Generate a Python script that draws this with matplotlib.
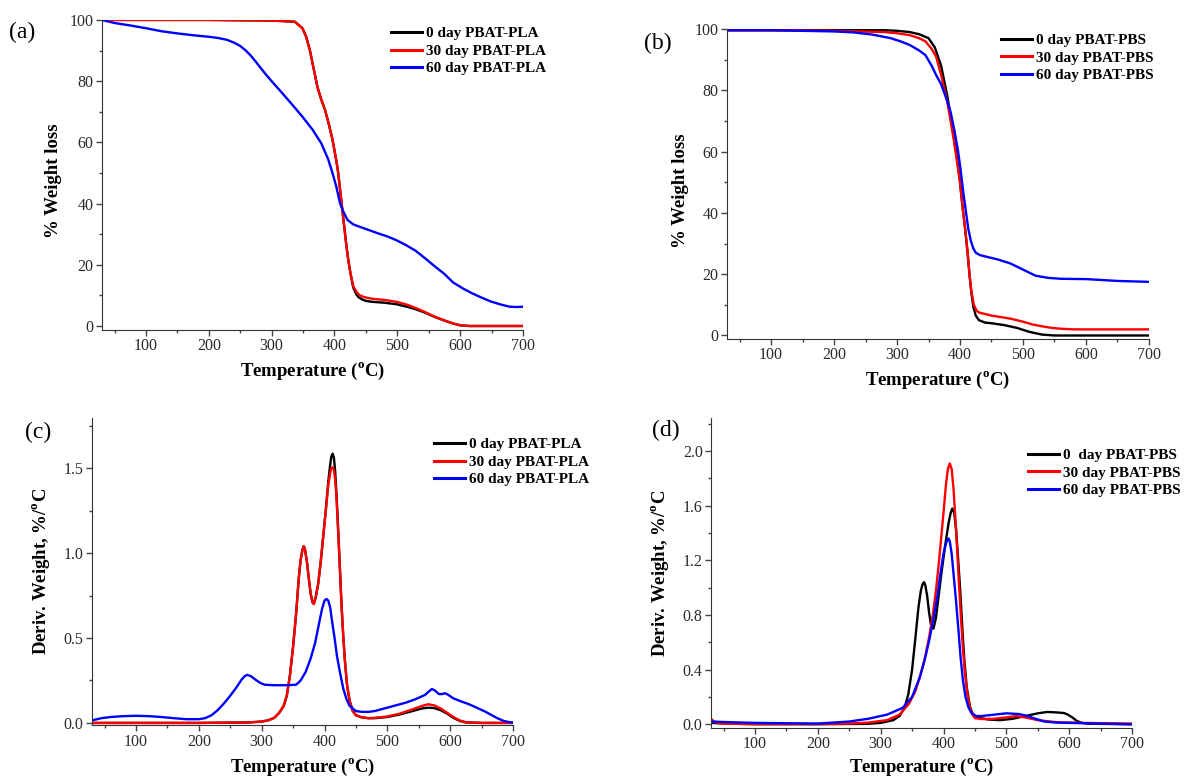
import matplotlib
matplotlib.use('Agg')
import matplotlib.pyplot as plt
from matplotlib.ticker import MultipleLocator

plt.rcParams['font.family'] = ['Liberation Serif', 'DejaVu Serif']
plt.rcParams['mathtext.fontset'] = 'custom'
plt.rcParams['mathtext.rm'] = 'Liberation Serif'
plt.rcParams['mathtext.bf'] = 'Liberation Serif:bold'

# ---- (a) TGA PBAT-PLA ----
a_t_0 = [30, 100, 200, 300, 320, 337, 349, 355, 361, 367, 373, 379, 385, 391, 397, 403, 406, 409,
         412, 415, 418, 421, 424, 427, 430, 435, 439, 445, 450, 460, 480, 499, 515, 529, 545, 559,
         575, 589, 601, 615, 650, 700]
a_w_0 = [100, 100, 100, 99.8, 99.6, 99.4, 97.3, 94.5, 90, 84, 78, 74, 70.6, 66, 60.8, 54, 50, 44.5,
         39, 33.5, 28, 23, 19, 15.5, 12.5, 10.3, 9.3, 8.6, 8.2, 7.9, 7.6, 7.1, 6.3, 5.5, 4.3, 3,
         1.8, 0.8, 0.2, 0, 0, 0]
a_w_30 = [100, 100, 100, 99.8, 99.6, 99.4, 97.3, 94.5, 90, 84, 78, 74, 70.6, 66, 60.8, 54, 50, 44.5,
          39, 33.5, 28, 23, 19, 15.8, 13, 11.2, 10.2, 9.6, 9.3, 8.9, 8.5, 7.9, 7, 5.9, 4.5, 3.1,
          1.8, 0.8, 0.2, 0, 0, 0]
a_t_60 = [30, 50, 75, 100, 125, 150, 175, 200, 215, 229, 240, 250, 259, 267, 275, 283, 290, 300,
          313, 330, 349, 365, 379, 390, 397, 403, 409, 415, 421, 430, 439, 450, 469, 485, 499, 515,
          529, 545, 559, 575, 589, 605, 619, 635, 649, 665, 679, 690, 700]
a_w_60 = [100, 99, 98.2, 97.3, 96.3, 95.6, 95, 94.5, 94.1, 93.5, 92.6, 91.5, 90, 88.3, 86.3, 84.2,
          82.4, 80, 77, 73, 68.4, 64.2, 59.7, 54.5, 49.9, 45.5, 40, 37, 34.6, 33.2, 32.5, 31.7,
          30.3, 29.2, 28, 26.3, 24.6, 22, 19.6, 17, 14.2, 12.2, 10.7, 9.2, 8, 7, 6.3, 6.2, 6.3]

# ---- (b) TGA PBAT-PBS ----
b_t_0 = [30, 100, 200, 280, 300, 320, 335, 350, 360, 370, 380, 390, 395, 400, 404, 408, 412, 415,
         418, 421, 425, 430, 440, 450, 470, 490, 510, 530, 550, 600, 650, 700]
b_w_0 = [99.6, 99.6, 99.6, 99.6, 99.4, 99, 98.3, 97, 94, 88, 78, 65, 58, 50, 42, 35, 27, 20,
         14, 9.5, 6.5, 5, 4.2, 4, 3.4, 2.5, 1.2, 0.3, 0, 0, 0, 0]
b_t_30 = [30, 100, 200, 280, 300, 320, 335, 345, 355, 362, 370, 380, 390, 395, 400, 404, 408, 412,
          415, 418, 422, 426, 430, 440, 450, 465, 480, 500, 515, 530, 545, 560, 580, 600, 650, 700]
b_w_30 = [99.6, 99.6, 99.4, 99, 98.6, 98, 97, 96, 93.5, 91, 85, 76, 64, 57, 50, 42, 35, 27.5,
          20, 14.5, 10, 8.2, 7.5, 7, 6.5, 6, 5.5, 4.5, 3.6, 3, 2.5, 2.2, 2, 2, 2, 2]
b_t_60 = [30, 100, 200, 230, 260, 290, 305, 320, 335, 345, 355, 362, 370, 378, 385, 391, 397, 401,
          405, 409, 413, 417, 421, 425, 432, 440, 460, 480, 500, 520, 540, 560, 600, 650, 700]
b_w_60 = [99.6, 99.6, 99.2, 98.9, 98.2, 97, 96, 94.8, 93, 91.5, 88, 85, 82, 77.5, 73, 67, 60, 54,
          47, 41, 35, 31, 28.5, 27, 26.2, 25.8, 24.8, 23.5, 21.5, 19.5, 18.8, 18.5, 18.4, 17.8, 17.5]

# ---- (c) DTG PBAT-PLA ----
c_t_0 = [30, 100, 200, 280, 300, 310, 320, 328, 335, 340, 345, 350, 355, 359, 362, 365, 367, 369,
         372, 375, 378, 381, 383, 386, 390, 394, 398, 402, 406, 409, 411, 413, 415, 417, 419, 421,
         424, 427, 430, 433, 436, 440, 445, 450, 460, 470, 480, 500, 520, 540, 555, 565, 575, 585,
         595, 605, 615, 625, 650, 700]
c_d_0 = [0, 0, 0, 0.003, 0.008, 0.015, 0.03, 0.06, 0.1, 0.16, 0.28, 0.45, 0.65, 0.85, 0.96, 1.02,
         1.04, 1.02, 0.95, 0.85, 0.76, 0.71, 0.7, 0.74, 0.82, 0.95, 1.1, 1.25, 1.42, 1.52, 1.57,
         1.585, 1.56, 1.48, 1.35, 1.2, 0.95, 0.7, 0.5, 0.34, 0.22, 0.13, 0.07, 0.045, 0.032, 0.028,
         0.028, 0.035, 0.05, 0.07, 0.085, 0.09, 0.087, 0.075, 0.055, 0.03, 0.012, 0.003, 0, 0]
c_d_30 = [0, 0, 0, 0.003, 0.008, 0.015, 0.03, 0.06, 0.1, 0.16, 0.28, 0.45, 0.65, 0.85, 0.96, 1.02,
          1.04, 1.02, 0.95, 0.85, 0.76, 0.71, 0.7, 0.74, 0.82, 0.95, 1.1, 1.25, 1.4, 1.47, 1.5,
          1.505, 1.49, 1.43, 1.33, 1.18, 0.95, 0.7, 0.5, 0.34, 0.22, 0.13, 0.07, 0.045, 0.032, 0.028,
          0.03, 0.038, 0.055, 0.08, 0.1, 0.11, 0.103, 0.085, 0.06, 0.035, 0.015, 0.004, 0, 0]
c_t_60 = [30, 45, 60, 80, 100, 120, 140, 160, 180, 200, 210, 220, 230, 240, 250, 260, 268, 273,
          277, 283, 290, 298, 305, 320, 340, 355, 362, 370, 378, 385, 391, 396, 400, 403, 406, 409,
          412, 416, 420, 425, 430, 435, 440, 450, 460, 470, 480, 490, 500, 515, 530, 545, 560, 566,
          571, 576, 582, 587, 592, 597, 605, 615, 630, 645, 655, 665, 675, 685, 695, 700]
c_d_60 = [0.015, 0.028, 0.035, 0.04, 0.042, 0.04, 0.035, 0.028, 0.022, 0.022, 0.028, 0.045, 0.075,
          0.115, 0.16, 0.21, 0.255, 0.275, 0.283, 0.275, 0.255, 0.235, 0.225, 0.222, 0.222, 0.225,
          0.25, 0.3, 0.38, 0.47, 0.58, 0.67, 0.72, 0.73, 0.72, 0.68, 0.6, 0.5, 0.39, 0.29, 0.2, 0.14,
          0.1, 0.07, 0.065, 0.065, 0.07, 0.08, 0.09, 0.105, 0.12, 0.14, 0.165, 0.185, 0.2, 0.19,
          0.17, 0.17, 0.175, 0.165, 0.145, 0.13, 0.11, 0.085, 0.068, 0.048, 0.028, 0.012, 0.004,
          0.003]

# ---- (d) DTG PBAT-PBS ----
d_t_0 = [30, 50, 100, 200, 280, 300, 320, 330, 338, 344, 350, 355, 360, 364, 367, 369, 371, 374,
         377, 380, 384, 388, 392, 396, 400, 404, 408, 411, 414, 417, 420, 423, 427, 430, 433, 437,
         442, 446, 450, 460, 470, 490, 510, 530, 550, 565, 575, 585, 592, 598, 605, 612, 620, 630,
         700]
d_d_0 = [0.01, 0.005, 0, 0, 0.003, 0.01, 0.03, 0.06, 0.12, 0.22, 0.4, 0.62, 0.85, 0.98, 1.03,
         1.04, 1.02, 0.94, 0.82, 0.73, 0.7, 0.78, 0.93, 1.08, 1.22, 1.35, 1.47, 1.54, 1.58, 1.55,
         1.43, 1.23, 0.95, 0.7, 0.48, 0.27, 0.13, 0.08, 0.06, 0.045, 0.035, 0.03, 0.04, 0.06, 0.08,
         0.09, 0.088, 0.085, 0.082, 0.07, 0.05, 0.025, 0.01, 0.004, 0]
d_t_30 = [30, 35, 40, 50, 100, 200, 250, 280, 310, 330, 345, 355, 362, 368, 372, 378, 383, 388,
          393, 397, 401, 404, 407, 410, 413, 416, 419, 422, 425, 428, 431, 434, 438, 442, 446, 450,
          460, 480, 500, 515, 530, 550, 580, 620, 700]
d_d_30 = [0.04, 0.02, 0.01, 0.004, 0.002, 0.002, 0.005, 0.012, 0.03, 0.07, 0.15, 0.24, 0.34,
          0.44, 0.52, 0.66, 0.8, 0.98, 1.2, 1.4, 1.6, 1.76, 1.87, 1.91, 1.87, 1.72, 1.5, 1.25, 1.0,
          0.76, 0.55, 0.38, 0.22, 0.12, 0.07, 0.045, 0.038, 0.04, 0.05, 0.06, 0.05, 0.03, 0.015,
          0.01, 0.005]
d_t_60 = [30, 60, 100, 200, 250, 280, 310, 335, 350, 362, 370, 378, 385, 390, 395, 400, 403, 406,
          408, 410, 413, 416, 420, 424, 427, 431, 435, 440, 445, 452, 460, 480, 500, 520, 530, 540,
          550, 560, 580, 600, 650, 700]
d_d_60 = [0.02, 0.015, 0.01, 0.005, 0.02, 0.04, 0.07, 0.12, 0.2, 0.34, 0.47, 0.63, 0.8, 0.93,
          1.1, 1.25, 1.31, 1.35, 1.36, 1.34, 1.25, 1.1, 0.9, 0.68, 0.5, 0.32, 0.2, 0.12, 0.08, 0.06,
          0.06, 0.07, 0.08, 0.075, 0.065, 0.05, 0.035, 0.02, 0.012, 0.01, 0.005, 0]

labels_pla = ['0 day PBAT-PLA', '30 day PBAT-PLA', '60 day PBAT-PLA']
labels_pbs = ['0 day PBAT-PBS', '30 day PBAT-PBS', '60 day PBAT-PBS']
labels_pbs_d = ['0  day PBAT-PBS', '30 day PBAT-PBS', '60 day PBAT-PBS']

fig = plt.figure(figsize=(11.84, 7.79), dpi=100)

deg = '$^{\\mathbf{o}}$'
panels = [
    dict(rect=[0.0861, 0.5764, 0.3556, 0.398], tag='(a)', tagpos=(22, 32),
         series=[(a_t_0, a_w_0), (a_t_0, a_w_30), (a_t_60, a_w_60)], labels=labels_pla,
         ylim=(-1.3, 100), major=20, minor=10, fmt='%d', ylabel='% Weight loss',
         leg=(0.672, 0.998), ylab=(-0.116, 0.48), xlab=-0.135),
    dict(rect=[0.614, 0.5648, 0.3564, 0.398], tag='(b)', tagpos=(658, 43),
         series=[(b_t_0, b_w_0), (b_t_30, b_w_30), (b_t_60, b_w_60)], labels=labels_pbs,
         ylim=(-1.15, 100), major=20, minor=10, fmt='%d', ylabel='% Weight loss',
         leg=(0.635, 1.005), ylab=(-0.109, 0.48), xlab=-0.135),
    dict(rect=[0.0777, 0.0687, 0.3556, 0.3947], tag='(c)', tagpos=(38, 432),
         series=[(c_t_0, c_d_0), (c_t_0, c_d_30), (c_t_60, c_d_60)], labels=labels_pla,
         ylim=(-0.015, 1.795), major=0.5, minor=0.25, fmt='%.1f',
         ylabel='Deriv. Weight, %/' + deg + 'C', leg=(0.798, 0.956),
         ylab=(-0.12, 0.5), xlab=-0.138),
    dict(rect=[0.6005, 0.0659, 0.3556, 0.397], tag='(d)', tagpos=(666, 430),
         series=[(d_t_0, d_d_0), (d_t_30, d_d_30), (d_t_60, d_d_60)], labels=labels_pbs_d,
         ylim=(-0.025, 2.24), major=0.4, minor=0.2, fmt='%.1f',
         ylabel='Deriv. Weight, %/' + deg + 'C', leg=(0.739, 0.922),
         ylab=(-0.121, 0.5), xlab=-0.13),
]
colors = ['black', 'red', 'blue']

for p in panels:
    ax = fig.add_axes(p['rect'])
    for (x, y), c, lab in zip(p['series'], colors, p['labels']):
        ax.plot(x, y, color=c, lw=1.7, label=lab)
    ax.set_xlim(30, 700)
    ax.set_ylim(*p['ylim'])
    ax.xaxis.set_major_locator(MultipleLocator(100))
    ax.xaxis.set_minor_locator(MultipleLocator(50))
    ax.yaxis.set_major_locator(MultipleLocator(p['major']))
    ax.yaxis.set_minor_locator(MultipleLocator(p['minor']))
    ax.yaxis.set_major_formatter(matplotlib.ticker.FormatStrFormatter(p['fmt']))
    ax.spines['top'].set_visible(False)
    ax.spines['right'].set_visible(False)
    ax.spines['left'].set_color('#333333')
    ax.spines['bottom'].set_color('#333333')
    ax.tick_params(which='major', direction='out', length=4, width=1, labelsize=11.5,
                   colors='#444444', labelcolor='#2a2a2a', pad=2)
    ax.tick_params(which='minor', direction='out', length=2.5, width=1, colors='#444444')
    ax.set_xlabel('Temperature (' + deg + 'C)', fontsize=13.5, fontweight='bold', va='center')
    ax.xaxis.set_label_coords(0.5, p['xlab'])
    ax.set_ylabel(p['ylabel'], fontsize=13.5, fontweight='bold', va='center')
    ax.yaxis.set_label_coords(*p['ylab'])
    leg = ax.legend(loc='upper left', bbox_to_anchor=p['leg'], frameon=False,
                    prop={'weight': 'bold', 'size': 11}, handlelength=2.0, handletextpad=0.3,
                    labelspacing=0.25, borderaxespad=0)
    for h in leg.get_lines():
        h.set_linewidth(2.2)
    fig.text(p['tagpos'][0] / 1184, 1 - p['tagpos'][1] / 779, p['tag'], fontsize=17,
             ha='center', va='center')

fig.savefig('out.png', dpi=100)
